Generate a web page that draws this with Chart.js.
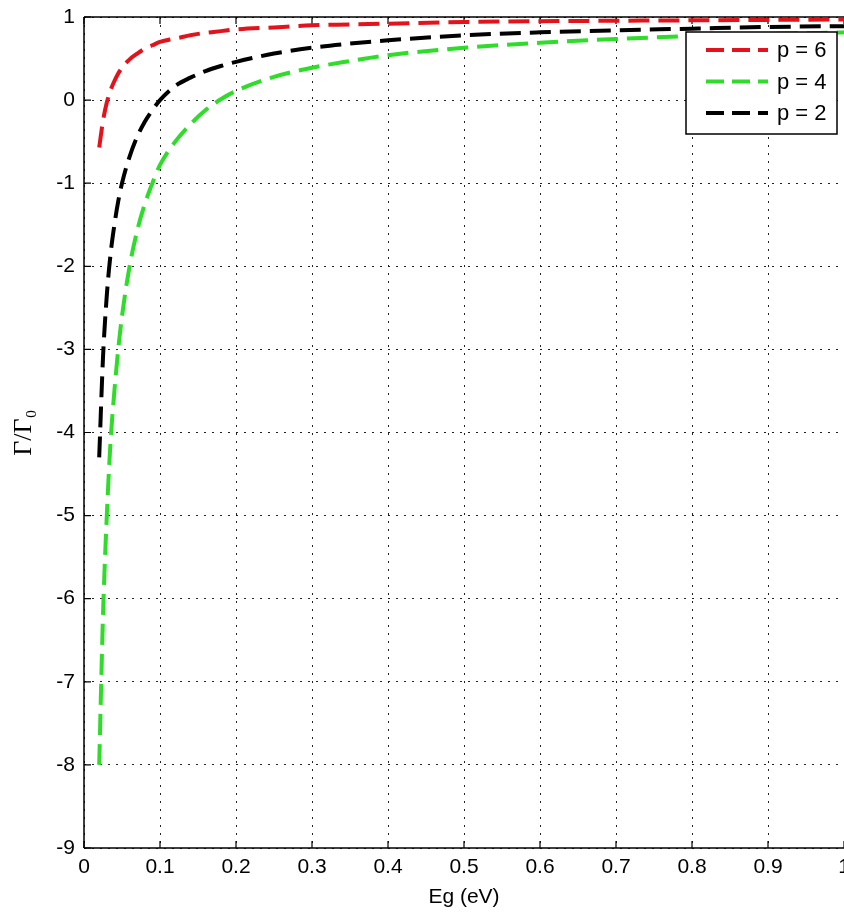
<!DOCTYPE html>
<html>
<head>
<meta charset="utf-8">
<script src="https://cdn.jsdelivr.net/npm/chart.js@4.4.1/dist/chart.umd.min.js"></script>
<style>
  html, body { margin: 0; padding: 0; background: #fff; }
  canvas { display: block; }
</style>
</head>
<body>
<canvas id="gammaChart" width="844" height="914"></canvas>
<script>
// Eg (eV) sample points
const egValues = [0.02, 0.025, 0.03, 0.035, 0.04, 0.045, 0.05, 0.06, 0.07, 0.08, 0.09, 0.1,
                  0.12, 0.14, 0.16, 0.18, 0.2, 0.25, 0.3, 0.35, 0.4, 0.5, 0.6, 0.7, 0.8, 0.9, 1.0];

// Gamma / Gamma0
const ratioP6 = [-0.57, -0.25, -0.03, 0.12, 0.23, 0.32, 0.39, 0.49, 0.56, 0.62, 0.66, 0.70,
                 0.74, 0.78, 0.81, 0.83, 0.85, 0.875, 0.90, 0.91, 0.92, 0.94, 0.95, 0.955, 0.96, 0.965, 0.97];
const ratioP4 = [-8.0, -6.2, -5.0, -4.1, -3.5, -3.0, -2.6, -2.0, -1.57, -1.25, -1.0, -0.78,
                 -0.5, -0.29, -0.12, 0.01, 0.11, 0.28, 0.39, 0.47, 0.54, 0.63, 0.69, 0.735, 0.77, 0.795, 0.815];
const ratioP2 = [-4.3, -3.1, -2.35, -1.85, -1.5, -1.22, -1.0, -0.68, -0.44, -0.26, -0.12, 0.0,
                 0.17, 0.27, 0.35, 0.41, 0.46, 0.56, 0.63, 0.68, 0.72, 0.78, 0.815, 0.84, 0.86, 0.88, 0.89];

const seriesLabels = ['p = 6', 'p = 4', 'p = 2'];
const seriesColors = ['#e3121b', '#2fdc2a', '#000000'];

const xTicks = [0, 0.1, 0.2, 0.3, 0.4, 0.5, 0.6, 0.7, 0.8, 0.9, 1];
const yTicks = [-9, -8, -7, -6, -5, -4, -3, -2, -1, 0, 1];

const tickFont = { family: 'Liberation Sans, Arial, sans-serif', size: 21 };

function toPoints(ys) {
    return egValues.map((x, i) => ({ x: x, y: ys[i] }));
}

// MATLAB style box: solid top/left/bottom lines with inward tick marks
const axesBox = {
    id: 'axesBox',
    beforeDatasetsDraw(chart) {
        const { ctx, chartArea: a, scales } = chart;
        ctx.save();
        ctx.strokeStyle = '#000';
        ctx.lineWidth = 1.5;
        ctx.beginPath();
        ctx.moveTo(a.left, a.top); ctx.lineTo(a.right, a.top);
        ctx.moveTo(a.left, a.top); ctx.lineTo(a.left, a.bottom);
        ctx.moveTo(a.left, a.bottom); ctx.lineTo(a.right, a.bottom);
        ctx.stroke();
        ctx.lineWidth = 1.2;
        ctx.beginPath();
        xTicks.forEach(v => {
            const px = scales.x.getPixelForValue(v);
            ctx.moveTo(px, a.bottom); ctx.lineTo(px, a.bottom - 7);
            ctx.moveTo(px, a.top); ctx.lineTo(px, a.top + 7);
        });
        yTicks.forEach(v => {
            const py = scales.y.getPixelForValue(v);
            ctx.moveTo(a.left, py); ctx.lineTo(a.left + 7, py);
        });
        ctx.stroke();
        ctx.restore();
    }
};

// legend box inside the axes, top right
const insideLegend = {
    id: 'insideLegend',
    afterDraw(chart) {
        const { ctx, chartArea: a } = chart;
        const w = 151, h = 102;
        const x0 = a.right - 7 - w, y0 = a.top + 15;
        ctx.save();
        ctx.fillStyle = '#fff';
        ctx.fillRect(x0, y0, w, h);
        ctx.strokeStyle = '#000';
        ctx.lineWidth = 1.5;
        ctx.strokeRect(x0, y0, w, h);
        ctx.font = '22px Liberation Sans, Arial, sans-serif';
        ctx.textBaseline = 'middle';
        ctx.textAlign = 'left';
        chart.data.datasets.forEach((ds, i) => {
            const cy = y0 + 18 + i * 31.5;
            ctx.strokeStyle = ds.borderColor;
            ctx.lineWidth = 4;
            ctx.setLineDash([18, 8]);
            ctx.beginPath();
            ctx.moveTo(x0 + 20, cy);
            ctx.lineTo(x0 + 82, cy);
            ctx.stroke();
            ctx.setLineDash([]);
            ctx.fillStyle = '#000';
            ctx.fillText(ds.label, x0 + 91, cy + 1);
        });
        ctx.restore();
    }
};

const ctx = document.getElementById('gammaChart').getContext('2d');

new Chart(ctx, {
    type: 'line',
    data: {
        datasets: [ratioP6, ratioP4, ratioP2].map((ys, i) => ({
            label: seriesLabels[i],
            data: toPoints(ys),
            borderColor: seriesColors[i],
            backgroundColor: seriesColors[i],
            borderWidth: 4,
            borderDash: [21, 9],
            pointRadius: 0,
            fill: false,
            cubicInterpolationMode: 'monotone'
        }))
    },
    options: {
        responsive: false,
        animation: false,
        devicePixelRatio: 1,
        layout: { padding: { top: 17, right: 0, left: 0, bottom: 0 } },
        plugins: {
            legend: { display: false },
            tooltip: { enabled: false }
        },
        scales: {
            x: {
                type: 'linear',
                min: 0,
                max: 1,
                afterBuildTicks: scale => { scale.ticks = xTicks.map(v => ({ value: v })); },
                afterFit: scale => {
                    scale.height = 66;
                    scale.paddingLeft = 0;
                    scale.paddingRight = 0;
                },
                ticks: {
                    color: '#000',
                    font: tickFont,
                    padding: 7,
                    maxRotation: 0,
                    autoSkip: false,
                    callback: v => String(Number(v.toFixed(1)))
                },
                grid: { color: '#222', lineWidth: 1, drawTicks: false },
                border: { display: false, dash: [2, 6] },
                title: {
                    display: true,
                    text: 'Eg (eV)',
                    color: '#000',
                    font: tickFont,
                    padding: { top: 0, bottom: 4 }
                }
            },
            y: {
                type: 'linear',
                min: -9,
                max: 1,
                afterBuildTicks: scale => { scale.ticks = yTicks.map(v => ({ value: v })); },
                afterFit: scale => {
                    scale.width = 84;
                    scale.paddingTop = 0;
                    scale.paddingBottom = 0;
                },
                ticks: {
                    color: '#000',
                    font: tickFont,
                    padding: 9,
                    autoSkip: false
                },
                grid: { color: '#222', lineWidth: 1, drawTicks: false },
                border: { display: false, dash: [2, 6] },
                title: {
                    display: true,
                    text: 'Γ/Γ₀',
                    color: '#000',
                    font: { family: 'Liberation Serif, Times New Roman, serif', size: 26 },
                    padding: { top: 9, bottom: 0 }
                }
            }
        }
    },
    plugins: [axesBox, insideLegend]
});
</script>
</body>
</html>
